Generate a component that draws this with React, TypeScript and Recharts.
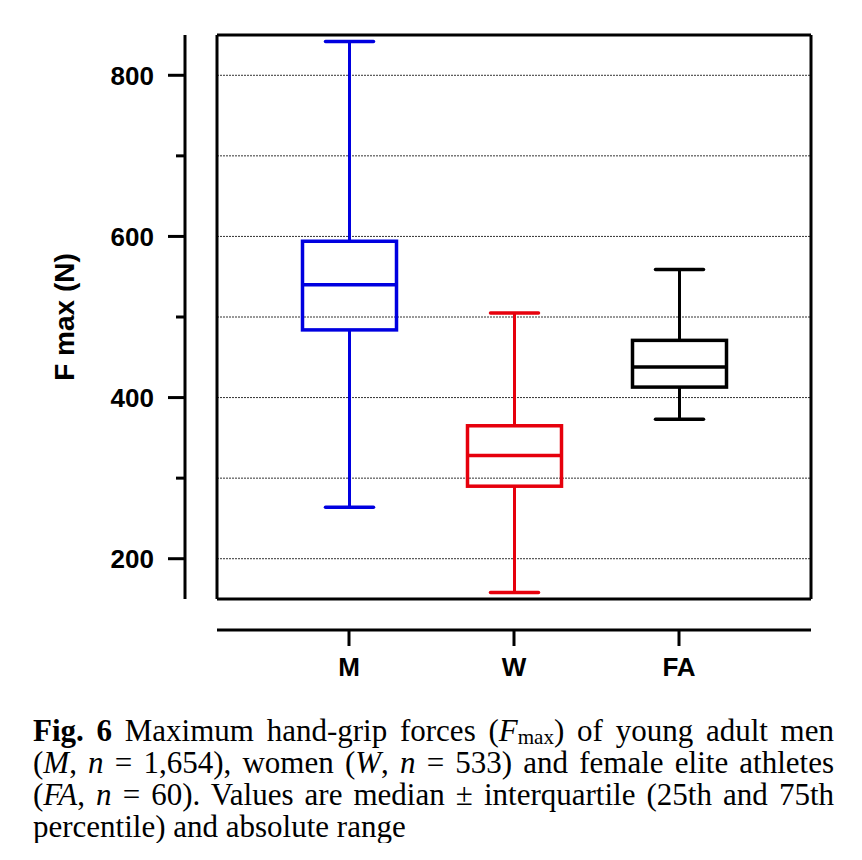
import React from 'react';
import {
  ComposedChart,
  Bar,
  Line,
  XAxis,
  YAxis,
  CartesianGrid,
  ReferenceLine,
} from 'recharts';

// ---- data ----
const categories = ['M', 'W', 'FA'];
const minValues = [264, 158, 373];
const q1Values = [484, 290, 413];
const medianValues = [540, 328, 438];
const q3Values = [594, 365, 471];
const maxValues = [842, 505, 559];
const groupColors = ['#0000e0', '#e6000c', '#000000'];

const yDomain = [150, 850];
const yTicks = [200, 300, 400, 500, 600, 700, 800];
const yLabelTicks = [200, 400, 600, 800];

const data = categories.map((name, i) => ({
  name,
  min: minValues[i],
  q1: q1Values[i],
  median: medianValues[i],
  q3: q3Values[i],
  max: maxValues[i],
  color: groupColors[i],
}));

const SANS = '"Liberation Sans", Arial, Helvetica, sans-serif';
const SERIF = '"Liberation Serif", "Times New Roman", Times, serif';
const CAT_PAD = { left: 49.5, right: 49.5 };
const X_GAP = 31; // gap between frame and detached x axis

const UpperWhisker = (props: any) => {
  const { x, y, width, height, payload } = props;
  const cx = x + width / 2;
  return (
    <g>
      <line x1={cx} x2={cx} y1={y} y2={y + height} stroke={payload.color} strokeWidth={3} />
      <line x1={x} x2={x + width} y1={y} y2={y} stroke={payload.color} strokeWidth={3.5} strokeLinecap="round" />
    </g>
  );
};

const LowerWhisker = (props: any) => {
  const { x, y, width, height, payload } = props;
  const cx = x + width / 2;
  return (
    <g>
      <line x1={cx} x2={cx} y1={y} y2={y + height} stroke={payload.color} strokeWidth={3} />
      <line x1={x} x2={x + width} y1={y + height} y2={y + height} stroke={payload.color} strokeWidth={3.5} strokeLinecap="round" />
    </g>
  );
};

const BoxShape = (props: any) => {
  const { x, y, width, height, payload } = props;
  return (
    <rect x={x} y={y} width={width} height={height} fill="none" stroke={payload.color} strokeWidth={3.5} />
  );
};

const MedianDot = (props: any) => {
  const { cx, cy, payload, index } = props;
  if (cx == null || cy == null) return <g key={`m${index}`} />;
  return (
    <line key={`m${index}`} x1={cx - 47} x2={cx + 47} y1={cy} y2={cy} stroke={payload.color} strokeWidth={3.5} />
  );
};

const YTick = (props: any) => {
  const { x, y, payload } = props;
  const major = yLabelTicks.includes(payload.value);
  return (
    <g>
      <line x1={x - (major ? 17 : 9)} x2={x} y1={y} y2={y} stroke="#000" strokeWidth={3} />
      {major && (
        <text x={x - 31} y={y} dy="0.36em" textAnchor="end" fontFamily={SANS} fontWeight="bold" fontSize={26} fill="#000">
          {payload.value}
        </text>
      )}
    </g>
  );
};

const XTick = (props: any) => {
  const { x, y, payload } = props;
  return (
    <text x={x} y={y + X_GAP} dy="0.71em" textAnchor="middle" fontFamily={SANS} fontWeight="bold" fontSize={26} fill="#000">
      {payload.value}
    </text>
  );
};

const YTitle = (props: any) => {
  const vb = props.viewBox || { x: 0, y: 27, width: 177, height: 564 };
  const cx = vb.x + 56;
  const cy = vb.y + vb.height / 2;
  return (
    <text
      x={cx}
      y={cy}
      transform={`rotate(-90 ${cx} ${cy})`}
      textAnchor="middle"
      dominantBaseline="central"
      fontFamily={SANS}
      fontWeight="bold"
      fontSize={28}
      fill="#000"
    >
      F max (N)
    </text>
  );
};

export default function App() {
  return (
    <div>
      <ComposedChart
        width={846}
        height={700}
        data={data}
        margin={{ top: 27, right: 0, bottom: 18, left: 0 }}
      >
        <CartesianGrid
          xAxisId="main"
          yAxisId="main"
          vertical={false}
          stroke="#333"
          strokeWidth={1}
          strokeDasharray="2 1"
        />
        <XAxis
          xAxisId="main"
          dataKey="name"
          height={91}
          padding={CAT_PAD}
          tickSize={16}
          tickMargin={12}
          axisLine={{ stroke: '#000', strokeWidth: 3, transform: `translate(0 ${X_GAP})` }}
          tickLine={{ stroke: '#000', strokeWidth: 3, transform: `translate(0 ${X_GAP})` }}
          tick={<XTick />}
        />
        <XAxis xAxisId="box" dataKey="name" padding={CAT_PAD} height={0} hide />
        <XAxis xAxisId="lower" dataKey="name" padding={CAT_PAD} height={0} hide />
        <YAxis
          yAxisId="frameLeft"
          type="number"
          domain={yDomain}
          width={32}
          tick={false}
          tickLine={false}
          axisLine={{ stroke: '#000', strokeWidth: 3 }}
        />
        <YAxis
          yAxisId="main"
          type="number"
          domain={yDomain}
          ticks={yTicks}
          width={177}
          tickSize={0}
          tickMargin={0}
          tickLine={false}
          axisLine={{ stroke: '#000', strokeWidth: 3 }}
          tick={<YTick />}
          label={<YTitle />}
          interval={0}
        />
        <YAxis
          yAxisId="frameRight"
          orientation="right"
          type="number"
          domain={yDomain}
          width={43}
          tick={false}
          tickLine={false}
          axisLine={{ stroke: '#000', strokeWidth: 3 }}
        />
        <ReferenceLine xAxisId="main" yAxisId="main" y={yDomain[0]} stroke="#000" strokeWidth={3} />
        <ReferenceLine xAxisId="main" yAxisId="main" y={yDomain[1]} stroke="#000" strokeWidth={3} />
        <Bar
          xAxisId="main"
          yAxisId="main"
          dataKey={(d: any) => [d.q3, d.max]}
          barSize={48}
          shape={<UpperWhisker />}
          isAnimationActive={false}
        />
        <Bar
          xAxisId="lower"
          yAxisId="main"
          dataKey={(d: any) => [d.min, d.q1]}
          barSize={48}
          shape={<LowerWhisker />}
          isAnimationActive={false}
        />
        <Bar
          xAxisId="box"
          yAxisId="main"
          dataKey={(d: any) => [d.q1, d.q3]}
          barSize={94}
          shape={<BoxShape />}
          isAnimationActive={false}
        />
        <Line
          xAxisId="main"
          yAxisId="main"
          dataKey="median"
          stroke="none"
          dot={MedianDot}
          activeDot={false}
          isAnimationActive={false}
        />
      </ComposedChart>
      <div
        style={{
          marginLeft: 25,
          width: 801,
          marginTop: 7,
          fontFamily: SERIF,
          fontSize: 31,
          lineHeight: '32px',
          color: '#000',
        }}
      >
        <div style={{ textAlign: 'justify', textAlignLast: 'justify' }}>
          <b>Fig. 6</b> Maximum hand-grip forces (<i>F</i>
          <span style={{ fontSize: '0.68em', verticalAlign: '-0.12em', lineHeight: 0 }}>max</span>) of young adult men
        </div>
        <div style={{ textAlign: 'justify', textAlignLast: 'justify' }}>
          (<i>M</i>, <i>n</i> = 1,654), women (<i>W</i>, <i>n</i> = 533) and female elite athletes
        </div>
        <div style={{ textAlign: 'justify', textAlignLast: 'justify' }}>
          (<i>FA</i>, <i>n</i> = 60). Values are median ± interquartile (25th and 75th
        </div>
        <div>percentile) and absolute range</div>
      </div>
    </div>
  );
}
